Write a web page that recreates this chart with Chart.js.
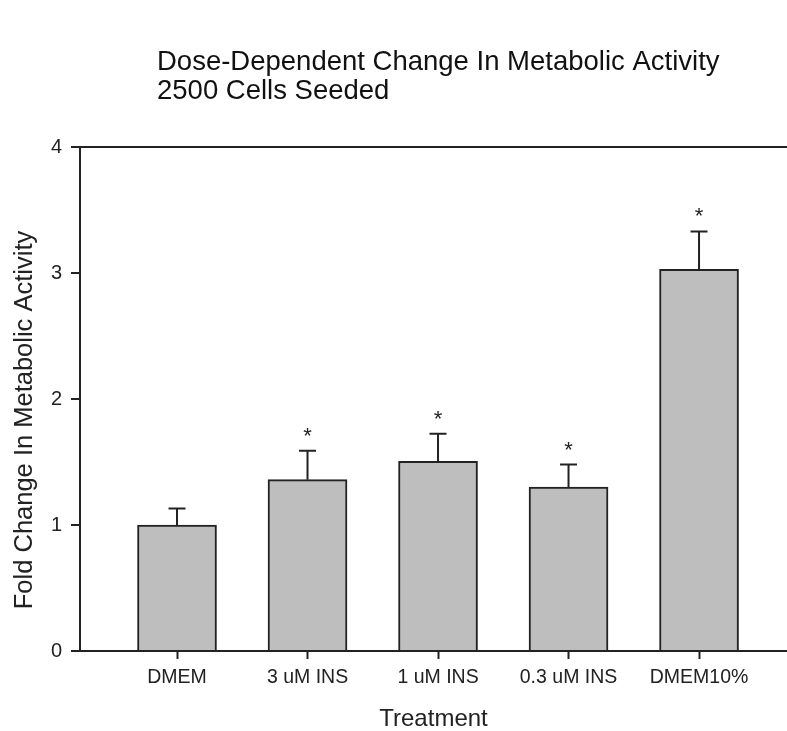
<!DOCTYPE html>
<html>
<head>
<meta charset="utf-8">
<script src="https://cdn.jsdelivr.net/npm/chart.js@4"></script>
<style>
  html, body { margin: 0; padding: 0; background: #fff; }
  #wrap { width: 787px; height: 731px; }
</style>
</head>
<body>
<div id="wrap"><canvas id="doseChart" width="787" height="731"></canvas></div>
<script>
const treatments = ['DMEM', '3 uM INS', '1 uM INS', '0.3 uM INS', 'DMEM10%'];
const foldChange = [1.00, 1.36, 1.505, 1.30, 3.03];
const foldError = [0.13, 0.23, 0.22, 0.18, 0.30];
const significant = [false, true, true, true, true];
const yTicks = [0, 1, 2, 3, 4];
const titleLines = ['Dose-Dependent Change In Metabolic Activity', '2500 Cells Seeded'];
const yTitle = 'Fold Change In Metabolic Activity';

const FONT = '"Liberation Sans", Arial, sans-serif';
const INK = '#222';

// error bars (upper only) and significance stars
const errorBars = {
    id: 'errorBars',
    afterDatasetsDraw(chart) {
        const ctx = chart.ctx;
        const yScale = chart.scales.y;
        const meta = chart.getDatasetMeta(0);
        ctx.save();
        ctx.strokeStyle = INK;
        ctx.lineWidth = 2;
        meta.data.forEach((bar, i) => {
            const top = yScale.getPixelForValue(foldChange[i]);
            const cap = yScale.getPixelForValue(foldChange[i] + foldError[i]);
            ctx.beginPath();
            ctx.moveTo(bar.x, top);
            ctx.lineTo(bar.x, cap);
            ctx.moveTo(bar.x - 8.5, cap);
            ctx.lineTo(bar.x + 8.5, cap);
            ctx.stroke();
            if (significant[i]) {
                ctx.fillStyle = INK;
                ctx.font = '22px ' + FONT;
                ctx.textAlign = 'center';
                ctx.textBaseline = 'alphabetic';
                ctx.fillText('*', bar.x, cap - 8);
            }
        });
        ctx.restore();
    }
};

// heading and the rotated y title
const labels = {
    id: 'labels',
    afterDraw(chart) {
        const ctx = chart.ctx;
        ctx.save();
        ctx.fillStyle = '#111';
        ctx.font = '27.5px ' + FONT;
        ctx.textAlign = 'left';
        ctx.textBaseline = 'alphabetic';
        ctx.fillText(titleLines[0], 157, 70);
        ctx.fillText(titleLines[1], 157, 99);

        ctx.translate(32, 420);
        ctx.rotate(-Math.PI / 2);
        ctx.fillStyle = '#222';
        ctx.font = '25.5px ' + FONT;
        ctx.textAlign = 'center';
        ctx.fillText(yTitle, 0, 0);
        ctx.restore();
    }
};

const ctx = document.getElementById('doseChart');
window.doseChart = new Chart(ctx, {
    type: 'bar',
    data: {
        datasets: [{
            data: foldChange.map((v, i) => ({x: i + 1, y: v})),
            backgroundColor: '#bebebe',
            borderColor: INK,
            borderWidth: 2,
            borderSkipped: 'bottom',
            barThickness: 79
        }]
    },
    plugins: [errorBars, labels],
    options: {
        responsive: false,
        animation: false,
        layout: {padding: {top: 147, right: 0, bottom: 0, left: 0}},
        plugins: {
            legend: {display: false},
            tooltip: {enabled: false},
            title: {display: false}
        },
        scales: {
            x: {
                type: 'linear',
                offset: false,
                min: 0.2567,
                max: 5.674,
                afterBuildTicks(scale) {
                    scale.ticks = treatments.map((t, i) => ({value: i + 1}));
                },
                afterFit(scale) { scale.height = 80; },
                border: {color: INK, width: 2},
                grid: {offset: false, drawOnChartArea: false, tickLength: 8, tickColor: INK, tickWidth: 2},
                ticks: {
                    color: '#222',
                    font: {family: FONT, size: 19.5},
                    padding: 7,
                    maxRotation: 0,
                    autoSkip: false,
                    callback: (v) => treatments[v - 1]
                },
                title: {
                    display: true,
                    text: 'Treatment',
                    color: '#222',
                    font: {family: FONT, size: 24, lineHeight: 1},
                    padding: {top: 0, bottom: 0}
                }
            },
            y: {
                min: 0,
                max: 4,
                afterBuildTicks(scale) {
                    scale.ticks = yTicks.map(v => ({value: v}));
                },
                afterFit(scale) { scale.width = 80; },
                border: {color: INK, width: 2},
                grid: {
                    tickLength: 9,
                    tickWidth: 2,
                    tickColor: INK,
                    lineWidth: 2,
                    color: (c) => (c.tick && c.tick.value === 4 ? INK : 'rgba(0,0,0,0)')
                },
                ticks: {
                    color: '#222',
                    font: {family: FONT, size: 20},
                    padding: 9
                }
            }
        }
    }
});
</script>
</body>
</html>
